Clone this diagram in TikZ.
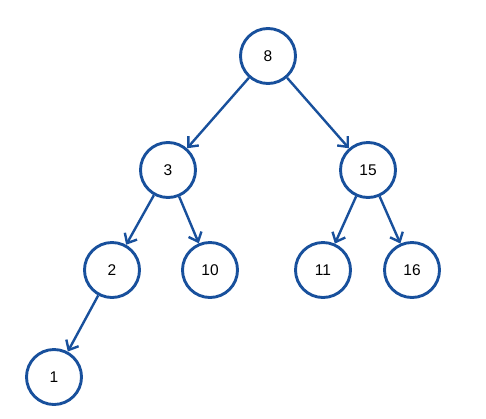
\documentclass[tikz,border=0pt]{standalone}
\usepackage{fontspec}
\setmainfont{Liberation Sans}
\usetikzlibrary{arrows.meta}
\definecolor{treeblue}{RGB}{24,80,156}

\begin{document}
\begin{tikzpicture}[x=1pt,y=-1pt,key/.style={shape=circle,draw=treeblue,line width=2.9pt,minimum size=55pt,inner sep=0pt,font=\fontsize{15.5}{18}\selectfont},link/.style={draw=treeblue,line width=2.4pt,-{Straight Barb[length=8pt,width=14pt,line width=2.4pt]}}]
\def\ya{56};
\def\yb{170};
\def\yc{270};
\def\yd{377};

\useasboundingbox (0,0) rectangle (486,418);

\node[key] (k8) at (268,\ya) {8};

\node[key] (k3) at (168,\yb) {3};
\draw[link] (k8) -- (k3);
\node[key] (k15) at (368,\yb) {15};
\draw[link] (k8) -- (k15);

\node[key] (k2) at (112,\yc) {2};
\draw[link] (k3) -- (k2);
\node[key] (k10) at (210,\yc) {10};
\draw[link] (k3) -- (k10);
\node[key] (k11) at (323,\yc) {11};
\draw[link] (k15) -- (k11);
\node[key] (k16) at (412,\yc) {16};
\draw[link] (k15) -- (k16);

\node[key] (k1) at (54,\yd) {1};
\draw[link] (k2) -- (k1);
\end{tikzpicture}
\end{document}
